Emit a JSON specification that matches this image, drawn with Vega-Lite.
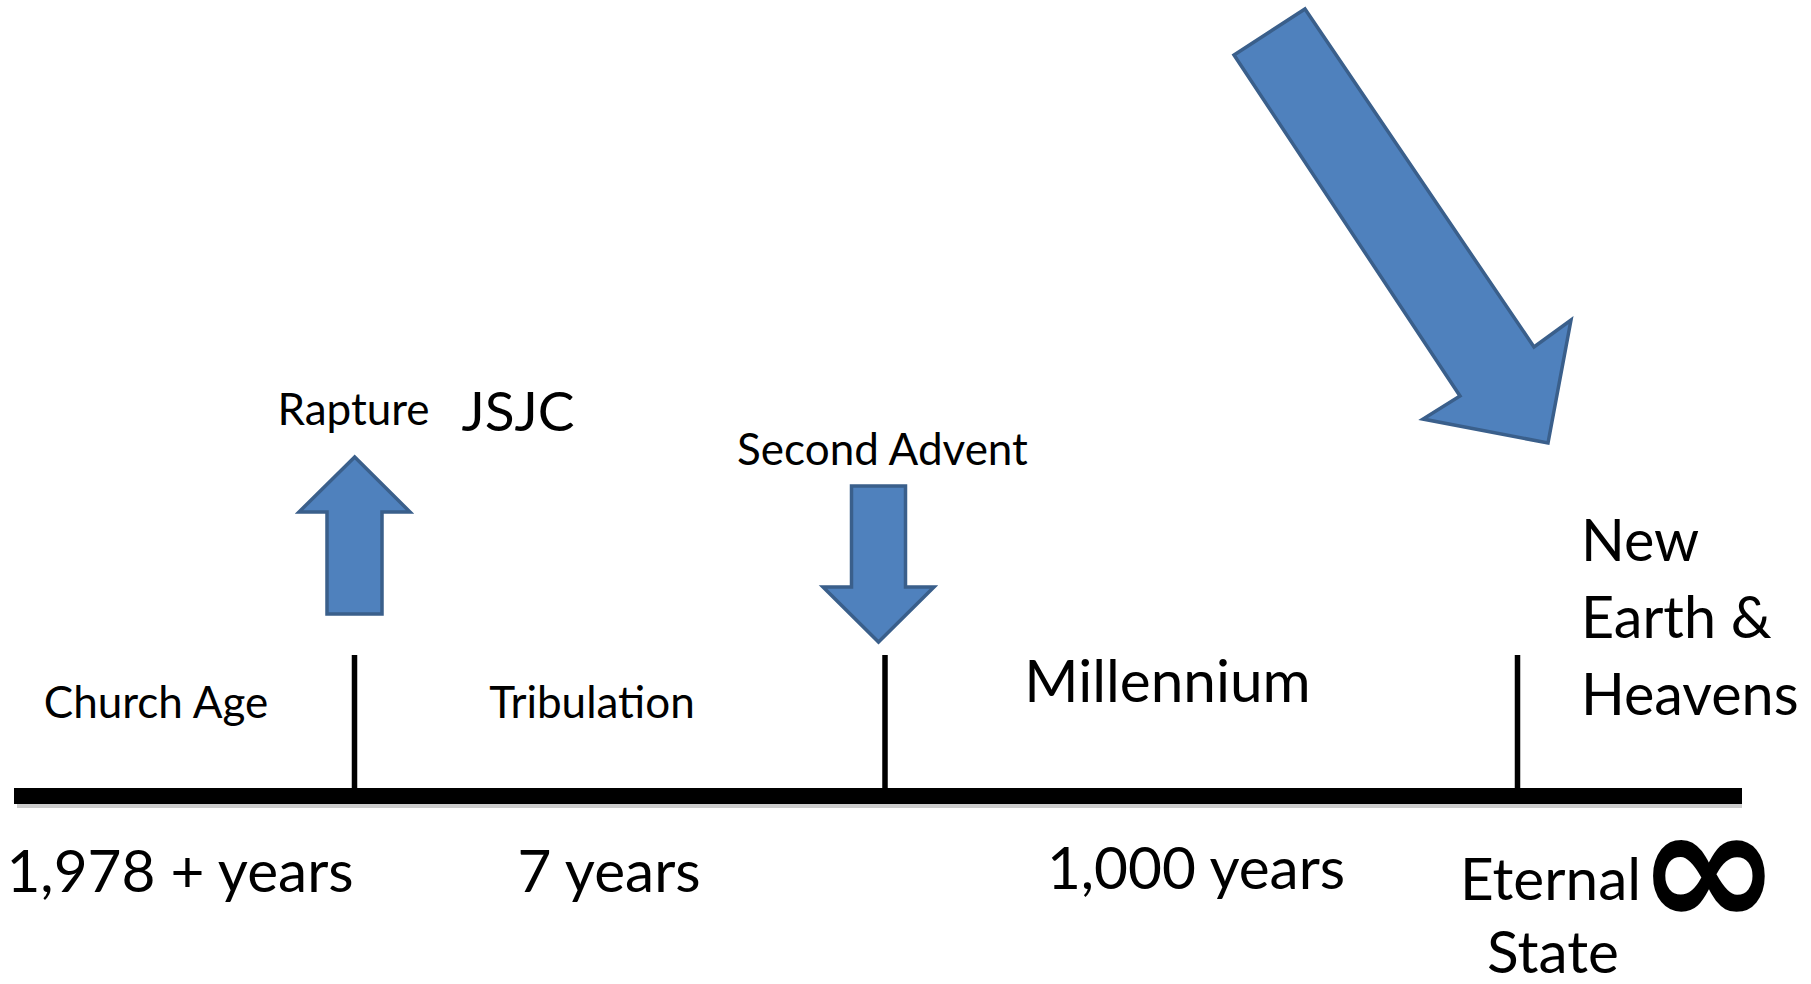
{
  "$schema": "https://vega.github.io/schema/vega-lite/v6.json",
  "width": 1811,
  "height": 984,
  "padding": 0,
  "autosize": {"type": "none"},
  "background": "white",
  "config": {"view": {"stroke": null}, "text": {"font": "Lato", "color": "black"}},
  "datasets": {
    "shapes": [
      {"shape": "rapture", "order": 1, "x": 354.7, "y": 457},
      {"shape": "rapture", "order": 2, "x": 410, "y": 512},
      {"shape": "rapture", "order": 3, "x": 382, "y": 512},
      {"shape": "rapture", "order": 4, "x": 382, "y": 614},
      {"shape": "rapture", "order": 5, "x": 327, "y": 614},
      {"shape": "rapture", "order": 6, "x": 327, "y": 512},
      {"shape": "rapture", "order": 7, "x": 299, "y": 512},
      {"shape": "advent", "order": 1, "x": 851.5, "y": 486},
      {"shape": "advent", "order": 2, "x": 905.5, "y": 486},
      {"shape": "advent", "order": 3, "x": 905.5, "y": 587},
      {"shape": "advent", "order": 4, "x": 934, "y": 587},
      {"shape": "advent", "order": 5, "x": 878.5, "y": 642},
      {"shape": "advent", "order": 6, "x": 823, "y": 587},
      {"shape": "advent", "order": 7, "x": 851.5, "y": 587},
      {"shape": "eternal", "order": 1, "x": 1305, "y": 9},
      {"shape": "eternal", "order": 2, "x": 1534, "y": 347},
      {"shape": "eternal", "order": 3, "x": 1571, "y": 320},
      {"shape": "eternal", "order": 4, "x": 1548, "y": 443},
      {"shape": "eternal", "order": 5, "x": 1423, "y": 419},
      {"shape": "eternal", "order": 6, "x": 1460, "y": 396},
      {"shape": "eternal", "order": 7, "x": 1234, "y": 55}
    ],
    "timeline": [
      {"x": 14, "x2": 1742, "y": 796}
    ],
    "ticks": [
      {"event": "Rapture", "x": 354.5, "y": 655, "y2": 796},
      {"event": "Second Advent", "x": 885, "y": 655, "y2": 796},
      {"event": "Eternal State", "x": 1517.5, "y": 655, "y2": 796}
    ],
    "labels": [
      {"group": "small", "label": "Rapture", "x": 353.5, "y": 425},
      {"group": "small", "label": "Church Age", "x": 156, "y": 718},
      {"group": "small", "label": "Tribulation", "x": 592, "y": 718},
      {"group": "small", "label": "Second Advent", "x": 882.5, "y": 465},
      {"group": "jsjc", "label": "JSJC", "x": 518, "y": 431},
      {"group": "large", "label": "Millennium", "x": 1167.5, "y": 702},
      {"group": "large", "label": "1,978 + years", "x": 180, "y": 892},
      {"group": "large", "label": "7 years", "x": 609, "y": 892},
      {"group": "large", "label": "1,000 years", "x": 1196, "y": 889},
      {"group": "large", "label": "Eternal", "x": 1550.5, "y": 900},
      {"group": "large", "label": "State", "x": 1553, "y": 973},
      {"group": "left", "label": "New", "x": 1581, "y": 561},
      {"group": "left", "label": "Earth &", "x": 1581, "y": 638},
      {"group": "left", "label": "Heavens", "x": 1581, "y": 715},
      {"group": "inf", "label": "∞", "x": 1709, "y": 875}
    ]
  },
  "layer": [
    {
      "data": {"name": "timeline"},
      "mark": {"type": "rule", "color": "#7f7f7f", "opacity": 0.4, "strokeWidth": 16, "yOffset": 4, "xOffset": 3},
      "encoding": {
        "x": {"field": "x", "type": "quantitative", "scale": {"domain": [0, 1811], "nice": false, "zero": false}, "axis": null},
        "x2": {"field": "x2"},
        "y": {"field": "y", "type": "quantitative", "scale": {"domain": [0, 984], "nice": false, "zero": false, "reverse": true}, "axis": null}
      }
    },
    {
      "data": {"name": "timeline"},
      "mark": {"type": "rule", "color": "black", "strokeWidth": 16},
      "encoding": {
        "x": {"field": "x", "type": "quantitative", "scale": {"domain": [0, 1811], "nice": false, "zero": false}, "axis": null},
        "x2": {"field": "x2"},
        "y": {"field": "y", "type": "quantitative", "scale": {"domain": [0, 984], "nice": false, "zero": false, "reverse": true}, "axis": null}
      }
    },
    {
      "data": {"name": "ticks"},
      "mark": {"type": "rule", "color": "black", "strokeWidth": 5.5},
      "encoding": {
        "x": {"field": "x", "type": "quantitative", "scale": {"domain": [0, 1811], "nice": false, "zero": false}, "axis": null},
        "y": {"field": "y", "type": "quantitative", "scale": {"domain": [0, 984], "nice": false, "zero": false, "reverse": true}, "axis": null},
        "y2": {"field": "y2"}
      }
    },
    {
      "data": {"name": "shapes"},
      "mark": {"type": "line", "interpolate": "linear-closed", "filled": true, "fill": "#4f81bd", "stroke": "#3a5f8b", "strokeWidth": 3.5, "strokeJoin": "miter"},
      "encoding": {
        "x": {"field": "x", "type": "quantitative", "scale": {"domain": [0, 1811], "nice": false, "zero": false}, "axis": null},
        "y": {"field": "y", "type": "quantitative", "scale": {"domain": [0, 984], "nice": false, "zero": false, "reverse": true}, "axis": null},
        "detail": {"field": "shape"},
        "order": {"field": "order", "type": "quantitative"}
      }
    },
    {
      "data": {"name": "labels"},
      "transform": [{"filter": "datum.group === 'small'"}],
      "mark": {"type": "text", "fontSize": 44, "align": "center", "baseline": "alphabetic"},
      "encoding": {
        "x": {"field": "x", "type": "quantitative", "scale": {"domain": [0, 1811], "nice": false, "zero": false}, "axis": null},
        "y": {"field": "y", "type": "quantitative", "scale": {"domain": [0, 984], "nice": false, "zero": false, "reverse": true}, "axis": null},
        "text": {"field": "label"}
      }
    },
    {
      "data": {"name": "labels"},
      "transform": [{"filter": "datum.group === 'jsjc'"}],
      "mark": {"type": "text", "fontSize": 55, "align": "center", "baseline": "alphabetic"},
      "encoding": {
        "x": {"field": "x", "type": "quantitative", "scale": {"domain": [0, 1811], "nice": false, "zero": false}, "axis": null},
        "y": {"field": "y", "type": "quantitative", "scale": {"domain": [0, 984], "nice": false, "zero": false, "reverse": true}, "axis": null},
        "text": {"field": "label"}
      }
    },
    {
      "data": {"name": "labels"},
      "transform": [{"filter": "datum.group === 'large'"}],
      "mark": {"type": "text", "fontSize": 58.5, "align": "center", "baseline": "alphabetic"},
      "encoding": {
        "x": {"field": "x", "type": "quantitative", "scale": {"domain": [0, 1811], "nice": false, "zero": false}, "axis": null},
        "y": {"field": "y", "type": "quantitative", "scale": {"domain": [0, 984], "nice": false, "zero": false, "reverse": true}, "axis": null},
        "text": {"field": "label"}
      }
    },
    {
      "data": {"name": "labels"},
      "transform": [{"filter": "datum.group === 'left'"}],
      "mark": {"type": "text", "fontSize": 57.5, "align": "left", "baseline": "alphabetic"},
      "encoding": {
        "x": {"field": "x", "type": "quantitative", "scale": {"domain": [0, 1811], "nice": false, "zero": false}, "axis": null},
        "y": {"field": "y", "type": "quantitative", "scale": {"domain": [0, 984], "nice": false, "zero": false, "reverse": true}, "axis": null},
        "text": {"field": "label"}
      }
    },
    {
      "data": {"name": "labels"},
      "transform": [{"filter": "datum.group === 'inf'"}],
      "mark": {"type": "text", "font": "DejaVu Sans", "fontWeight": "bold", "fontSize": 172, "align": "center", "baseline": "middle"},
      "encoding": {
        "x": {"field": "x", "type": "quantitative", "scale": {"domain": [0, 1811], "nice": false, "zero": false}, "axis": null},
        "y": {"field": "y", "type": "quantitative", "scale": {"domain": [0, 984], "nice": false, "zero": false, "reverse": true}, "axis": null},
        "text": {"field": "label"}
      }
    }
  ]
}
